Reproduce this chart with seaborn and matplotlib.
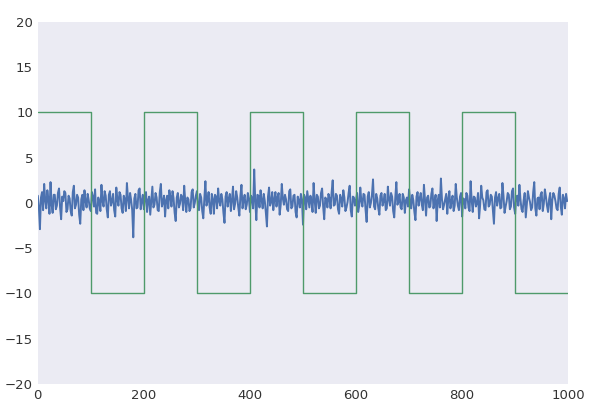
import numpy as np
import matplotlib
matplotlib.use("Agg")
import matplotlib.pyplot as plt
import seaborn as sns

# noisy signal (one sample every 2 steps)
noise_step = 2
noise = [
    0.8, -0.4, -2.9, 0.6, 1.2, -0.8, 2.1, 0.3, -0.6, 1.4, 0.4, -1.2, 2.3, -0.2, -1.1, 0.9, 0.9, -0.7, -0.3, 1.1, 1.6, -0.5, -1.8, 0.7, 0.2,
    1.3, 1.1, -1.0, -0.7, 0.8, 0.5, -0.9, -1.4, 1.2, 1.9, -0.6, -0.2, 0.9, 0.6, -1.3, -2.3, 0.4, 0.9, -0.8, 1.4, 0.2, -0.5, 1.0, 0.3, -0.6,
    -0.9, 1.2, 0.7, -0.4, 1.5, -1.1, -1.2, 0.6, 0.1, -0.9, 2.0, 0.2, -0.4, 1.3, 0.8, -0.7, -1.6, 0.9, 1.3, -0.3, 0.2, 1.0, -0.8, -1.5, 1.7,
    0.4, -0.3, 1.2, 0.9, -0.6, -1.1, 0.8, 0.4, -0.9, 2.2, 0.5, -0.6, 1.1, 0.3, -0.8, -3.8, 0.5, 1.0, -0.6, -0.5, 1.4, 1.6, -0.7, 0.2, 0.9,
    -0.7, 0.6, 1.2, -1.0, 0.3, 0.7, -1.3, 0.2, 1.8, -0.5, -0.2, 1.1, 0.6, -0.8, -0.9, 1.2, 2.1, -0.4, 0.1, 0.8, -1.5, 0.3, 0.8, -0.6, 1.4,
    0.7, -0.4, 1.3, 0.5, -1.1, -2.0, 0.6, 1.1, -0.5, -0.1, 0.9, 0.7, -0.8, 1.9, 0.2, -1.0, 0.6, 0.4, -0.9, -0.6, 1.2, 1.5, -0.5, 0.0, 0.8,
    1.3, -0.4, -0.8, 1.0, 0.6, -0.9, -1.7, 0.5, 2.4, -0.3, 0.2, 1.2, -0.5, -1.2, 1.0, 0.4, -1.2, 0.9, 0.7, -0.6, 1.6, 0.2, -0.3, 1.0, 0.4,
    -1.1, -2.2, 0.7, 1.2, -0.4, 0.5, 1.0, -0.9, 0.3, 1.8, -0.7, -0.1, 1.3, 0.6, -0.5, -1.4, 0.8, 2.0, -0.6, 0.3, 0.9, -0.7, -0.2, 1.1, 0.5,
    -1.0, 0.8, 0.5, -0.6, 3.7, 0.2, -1.9, 0.9, 0.8, -0.5, 1.4, 0.3, -0.6, 1.0, 0.2, -1.1, -2.6, 0.7, 1.7, -0.3, 0.1, 1.2, -0.8, 0.4, 1.2,
    -0.4, 0.6, 1.1, -1.3, -0.2, 2.1, 0.5, -0.2, 0.9, 0.4, -0.7, -0.9, 1.3, 1.5, -0.6, -0.4, 0.8, 0.9, -1.0, -1.6, 0.7, 0.3, -0.5, 1.0, 0.4,
    -2.4, 0.9, 0.6, -0.7, 1.3, 0.4, -0.5, 0.8, 0.2, -1.0, 2.2, 0.3, -1.1, 0.9, 0.7, -0.6, -0.3, 1.1, 1.6, -0.4, -1.8, 0.6, 0.4, -0.5, 1.0,
    0.5, -0.6, 1.2, 2.5, -0.3, -0.2, 1.0, 0.8, -0.7, -1.2, 0.9, 0.5, -0.4, 1.4, 0.6, -0.9, -0.5, 0.1, 1.1, 1.9, -0.8, -1.5, 0.7, 0.6, -0.3,
    0.3, 1.1, -1.0, -0.3, 1.7, 0.2, -0.4, 1.0, 0.9, -0.8, -2.1, 0.7, 1.2, -0.5, 0.0, 0.9, 2.6, -0.4, -0.7, 1.0, 0.5, -0.6, -1.3, 0.8, 1.1,
    -0.3, 0.2, 1.0, -0.8, -0.6, 1.8, 0.4, -0.3, 1.1, 0.7, -0.9, -1.6, 0.6, 2.3, -0.2, 0.1, 1.0, -0.5, -0.7, 1.0, 0.6, -1.1, 0.3, 0.6, -0.4,
    1.5, 0.2, -0.6, 0.9, 0.3, -1.0, -1.9, 0.7, 1.2, -0.3, 0.5, 1.1, -0.2, -0.8, 2.0, 0.4, -1.4, 0.6, 0.8, -0.5, -0.4, 1.0, 1.6, -0.6, 0.1,
    0.9, -2.0, 0.3, 0.9, -0.5, 2.7, 0.4, -0.7, -0.2, 0.4, 1.0, -1.2, 0.5, 1.3, -0.6, 0.2, 0.8, -0.9, -0.3, 2.1, 0.6, -0.3, -0.8, 0.7, 1.1,
    -1.5, 0.5, 0.4, -0.6, 1.1, 0.8, -0.5, -0.9, 2.4, 0.3, -1.0, 0.7, 0.6, -0.4, 0.0, 1.1, -1.7, -0.2, 1.9, 0.6, 0.3, -0.7, -0.8, 1.2, 1.4,
    -0.4, -0.2, 0.9, 0.7, -0.8, -2.3, 0.6, 1.2, -0.3, 0.5, 1.0, -0.6, -0.5, 2.2, 0.8, -1.1, -0.4, 0.2, 1.1, 0.9, -0.7, -0.4, 1.3, 1.6, -0.5,
    -1.2, 0.7, 0.8, -0.3, 2.0, 0.4, -0.7, -1.0, 0.3, 1.1, -1.6, -0.2, 1.3, 0.6, 0.1, -0.8, -0.5, 1.2, 2.3, -0.6, -1.4, 0.5, 0.6, -0.7, 0.9,
    1.2, -0.9, -0.1, 1.5, 0.7, -0.3, -1.0, 0.4, 1.1, -1.8, 0.3, 1.1, 0.8, 0.2, -0.6, -0.8, 1.0, 1.7, -0.4, -1.3, 0.9, 0.5, -0.6, 1.0, 0.2,
]

# square wave: level held from each edge to the next
wave_x = [0, 100, 200, 300, 400, 500, 600, 700, 800, 900, 1000]
wave_y = [10, -10, 10, -10, 10, -10, 10, -10, 10, -10, -10]

x_ticks = [0, 200, 400, 600, 800, 1000]
y_ticks = [-20, -15, -10, -5, 0, 5, 10, 15, 20]


def main():
    sns.set_style("dark")
    fig, ax = plt.subplots(figsize=(6, 4.15), dpi=100)
    fig.subplots_adjust(left=0.063, right=0.947, top=0.947, bottom=0.075)
    ax.set_facecolor("#EBEBF3")

    noise_x = np.arange(len(noise)) * noise_step
    sns.lineplot(x=noise_x, y=noise, ax=ax, color="#4C72B0", lw=1.4,
                 estimator=None, sort=False)
    sns.lineplot(x=wave_x, y=wave_y, ax=ax, color="#4E9A6A", lw=1.0,
                 estimator=None, sort=False, drawstyle="steps-post")

    ax.set_xlim(0, 1000)
    ax.set_ylim(-20, 20)
    ax.set_xticks(x_ticks)
    ax.set_yticks(y_ticks)
    ax.tick_params(labelsize=9.5, colors="#333333", length=0)
    for s in ax.spines.values():
        s.set_visible(False)

    plt.savefig("out.png", dpi=100)


if __name__ == '__main__':
    main()
